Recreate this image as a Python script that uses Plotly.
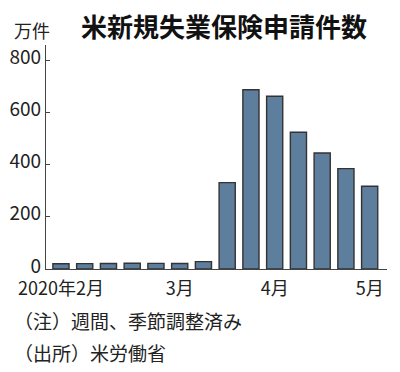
import plotly.graph_objects as go

weeks = ["2/1", "2/8", "2/15", "2/22", "2/29", "3/7", "3/14",
         "3/21", "3/28", "4/4", "4/11", "4/18", "4/25", "5/2"]
claims = [20.3, 20.5, 21.1, 21.9, 21.7, 21.1, 28.2,
          330.7, 686.7, 661.5, 523.7, 444.2, 384.6, 316.9]
tick_weeks = ["2/1", "3/7", "4/4", "5/2"]
tick_text = ["2020年2月", "3月", "4月", "5月"]
y_ticks = [0, 200, 400, 600, 800]

FONT = "Noto Sans CJK JP, sans-serif"
INK = "#222222"

# the page body adds an 8px margin; size the figure so it fits the window
OFF = 8
W, H = 400 - OFF, 372 - OFF
L, R, T, B = 46 - OFF, 13, 45 - OFF, 103

fig = go.Figure(go.Bar(
    x=weeks, y=claims,
    marker=dict(color="#5e7e9e", line=dict(color="#333333", width=1.4)),
    width=0.68,
))

fig.update_layout(
    width=W, height=H,
    margin=dict(l=L, r=R, t=T, b=B, autoexpand=False),
    paper_bgcolor="white", plot_bgcolor="white",
    showlegend=False,
    font=dict(family=FONT, color=INK, size=19),
    xaxis=dict(
        type="category", categoryorder="array", categoryarray=weeks,
        range=[-0.63, 13.73], automargin=False,
        tickmode="array", tickvals=tick_weeks, ticktext=tick_text,
        ticks="", showline=True, linecolor="#444444", linewidth=1.2,
        showgrid=False, zeroline=False, ticklabelstandoff=3,
        tickfont=dict(family=FONT, size=18, color=INK),
    ),
    yaxis=dict(
        range=[0, 858], tickvals=y_ticks, automargin=False,
        ticks="inside", ticklen=4, tickcolor="#444444", tickwidth=1,
        showline=True, linecolor="#444444", linewidth=1.2,
        showgrid=False, zeroline=False, ticklabelshift=-3,
        tickfont=dict(family=FONT, size=19, color=INK),
    ),
)

notes = [
    ("万件", 12, 30, 18, False),
    ("米新規失業保険申請件数", 79, 26, 26, True),
    ("（注）週間、季節調整済み", 12, 320, 19, False),
    ("（出所）米労働省", 12, 352, 19, False),
]
pw, ph = W - L - R, H - T - B
for text, px, py, size, bold in notes:
    px, py = px - OFF, py - OFF
    fig.add_annotation(
        text=f"<b>{text}</b>" if bold else text,
        x=(px - L) / pw, y=1 - (py - T) / ph,
        xref="paper", yref="paper", showarrow=False,
        xanchor="left", yanchor="middle",
        font=dict(family=FONT, size=size, color="#111111" if bold else INK),
    )

fig.write_html("out.html")
